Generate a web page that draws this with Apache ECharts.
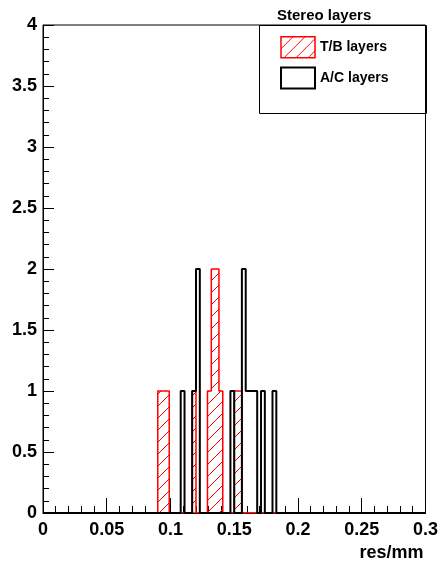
<!DOCTYPE html>
<html>
<head>
<meta charset="utf-8">
<script src="https://cdn.jsdelivr.net/npm/echarts@6/dist/echarts.min.js"></script>
<style>
  html, body { margin: 0; padding: 0; background: #fff; }
  #chart { width: 441px; height: 565px; }
</style>
</head>
<body>
<div id="chart"></div>
<script>
// Histogram binning of the residual axis
const binWidth = 0.003;
const xMin = 0;
const xMax = 0.3;

// T/B layers: low edge of each filled bin and its entry count
const tbBinLow = [0.090, 0.093, 0.096, 0.117, 0.129, 0.132, 0.135, 0.138, 0.150, 0.153];
const tbCounts = [1, 1, 1, 1, 1, 2, 2, 1, 1, 1];

// A/C layers: low edge of each filled bin and its entry count
const acBinLow = [0.108, 0.117, 0.120, 0.147, 0.156, 0.159, 0.162, 0.165, 0.171, 0.180];
const acCounts = [1, 1, 2, 1, 2, 1, 1, 1, 1, 1];

const seriesNames = ['T/B layers', 'A/C layers'];
const legendTitle = 'Stereo layers';
const xTitle = 'res/mm';

const FONT = 'Liberation Sans';

// Turn sparse bins into a full step outline (one point per bin low edge)
function histogramPoints(lows, counts) {
  const nBins = Math.round((xMax - xMin) / binWidth);
  const h = new Array(nBins).fill(0);
  lows.forEach((lo, k) => { h[Math.round((lo - xMin) / binWidth)] = counts[k]; });
  const pts = h.map((v, i) => [xMin + i * binWidth, v]);
  pts.push([xMax, 0]);
  return pts;
}

// Diagonal red hatching used to fill the T/B histogram
function hatchPattern() {
  const s = 12;
  const c = document.createElement('canvas');
  c.width = s; c.height = s;
  const g = c.getContext('2d');
  g.strokeStyle = '#ff0000';
  g.lineWidth = 1;
  g.beginPath();
  g.moveTo(0, s); g.lineTo(s, 0);
  g.moveTo(-s / 2, s / 2); g.lineTo(s / 2, -s / 2);
  g.moveTo(s / 2, s * 1.5); g.lineTo(s * 1.5, s / 2);
  g.stroke();
  return { image: c, repeat: 'repeat' };
}
const hatch = hatchPattern();

const chart = echarts.init(document.getElementById('chart'), null, { renderer: 'canvas' });

const axisLabelStyle = { fontFamily: FONT, fontWeight: 'bold', fontSize: 18, color: '#000' };

chart.setOption({
  animation: false,
  textStyle: { fontFamily: FONT },
  title: {
    text: legendTitle,
    left: 277,
    top: 8,
    padding: 0,
    textStyle: { fontFamily: FONT, fontWeight: 'bold', fontSize: 15, color: '#000' }
  },
  grid: {
    left: 43, right: 14, top: 25, bottom: 52,
    show: true, borderColor: '#000', borderWidth: 1, backgroundColor: 'transparent'
  },
  xAxis: {
    type: 'value',
    min: xMin, max: xMax, interval: 0.05,
    name: xTitle,
    nameLocation: 'end',
    nameGap: -2,
    nameTextStyle: {
      fontFamily: FONT, fontWeight: 'bold', fontSize: 18, color: '#000',
      align: 'right', verticalAlign: 'top', padding: [31, 0, 0, 0]
    },
    axisLine: { show: true, onZero: false, lineStyle: { color: '#000', width: 1 } },
    axisTick: { show: true, inside: true, length: 15, lineStyle: { color: '#000', width: 1 } },
    minorTick: { show: true, splitNumber: 5, length: 7, lineStyle: { color: '#000', width: 1 } },
    axisLabel: Object.assign({ margin: 8 }, axisLabelStyle),
    splitLine: { show: false },
    minorSplitLine: { show: false }
  },
  yAxis: {
    type: 'value',
    min: 0, max: 4, interval: 0.5,
    axisLine: { show: true, onZero: false, lineStyle: { color: '#000', width: 1 } },
    axisTick: { show: true, inside: true, length: 11, lineStyle: { color: '#000', width: 1 } },
    minorTick: { show: true, splitNumber: 5, length: 6, lineStyle: { color: '#000', width: 1 } },
    axisLabel: Object.assign({ margin: 6 }, axisLabelStyle),
    splitLine: { show: false },
    minorSplitLine: { show: false }
  },
  legend: {
    left: 280,
    top: 36,
    orient: 'vertical',
    itemWidth: 34,
    itemHeight: 21,
    itemGap: 8,
    padding: 0,
    selectedMode: false,
    textStyle: { fontFamily: FONT, fontWeight: 'bold', fontSize: 14, color: '#000' },
    data: [
      { name: seriesNames[0], icon: 'rect',
        itemStyle: { color: hatch, borderColor: '#ff0000', borderWidth: 1.5 } },
      { name: seriesNames[1], icon: 'rect',
        itemStyle: { color: '#fff', borderColor: '#000', borderWidth: 2 } }
    ]
  },
  graphic: [
    { type: 'rect', z: 1, silent: true,
      shape: { x: 259.5, y: 25.5, width: 167, height: 88 },
      style: { fill: 'transparent', stroke: '#000', lineWidth: 1 } }
  ],
  series: [
    {
      name: seriesNames[0],
      type: 'line',
      step: 'end',
      symbol: 'none',
      showSymbol: false,
      z: 2,
      lineStyle: { color: '#ff0000', width: 1.5 },
      itemStyle: { color: '#ff0000' },
      areaStyle: { color: hatch, opacity: 1 },
      data: histogramPoints(tbBinLow, tbCounts)
    },
    {
      name: seriesNames[1],
      type: 'line',
      step: 'end',
      symbol: 'none',
      showSymbol: false,
      z: 3,
      lineStyle: { color: '#000', width: 2 },
      itemStyle: { color: '#000' },
      data: histogramPoints(acBinLow, acCounts)
    }
  ]
});
</script>
</body>
</html>
